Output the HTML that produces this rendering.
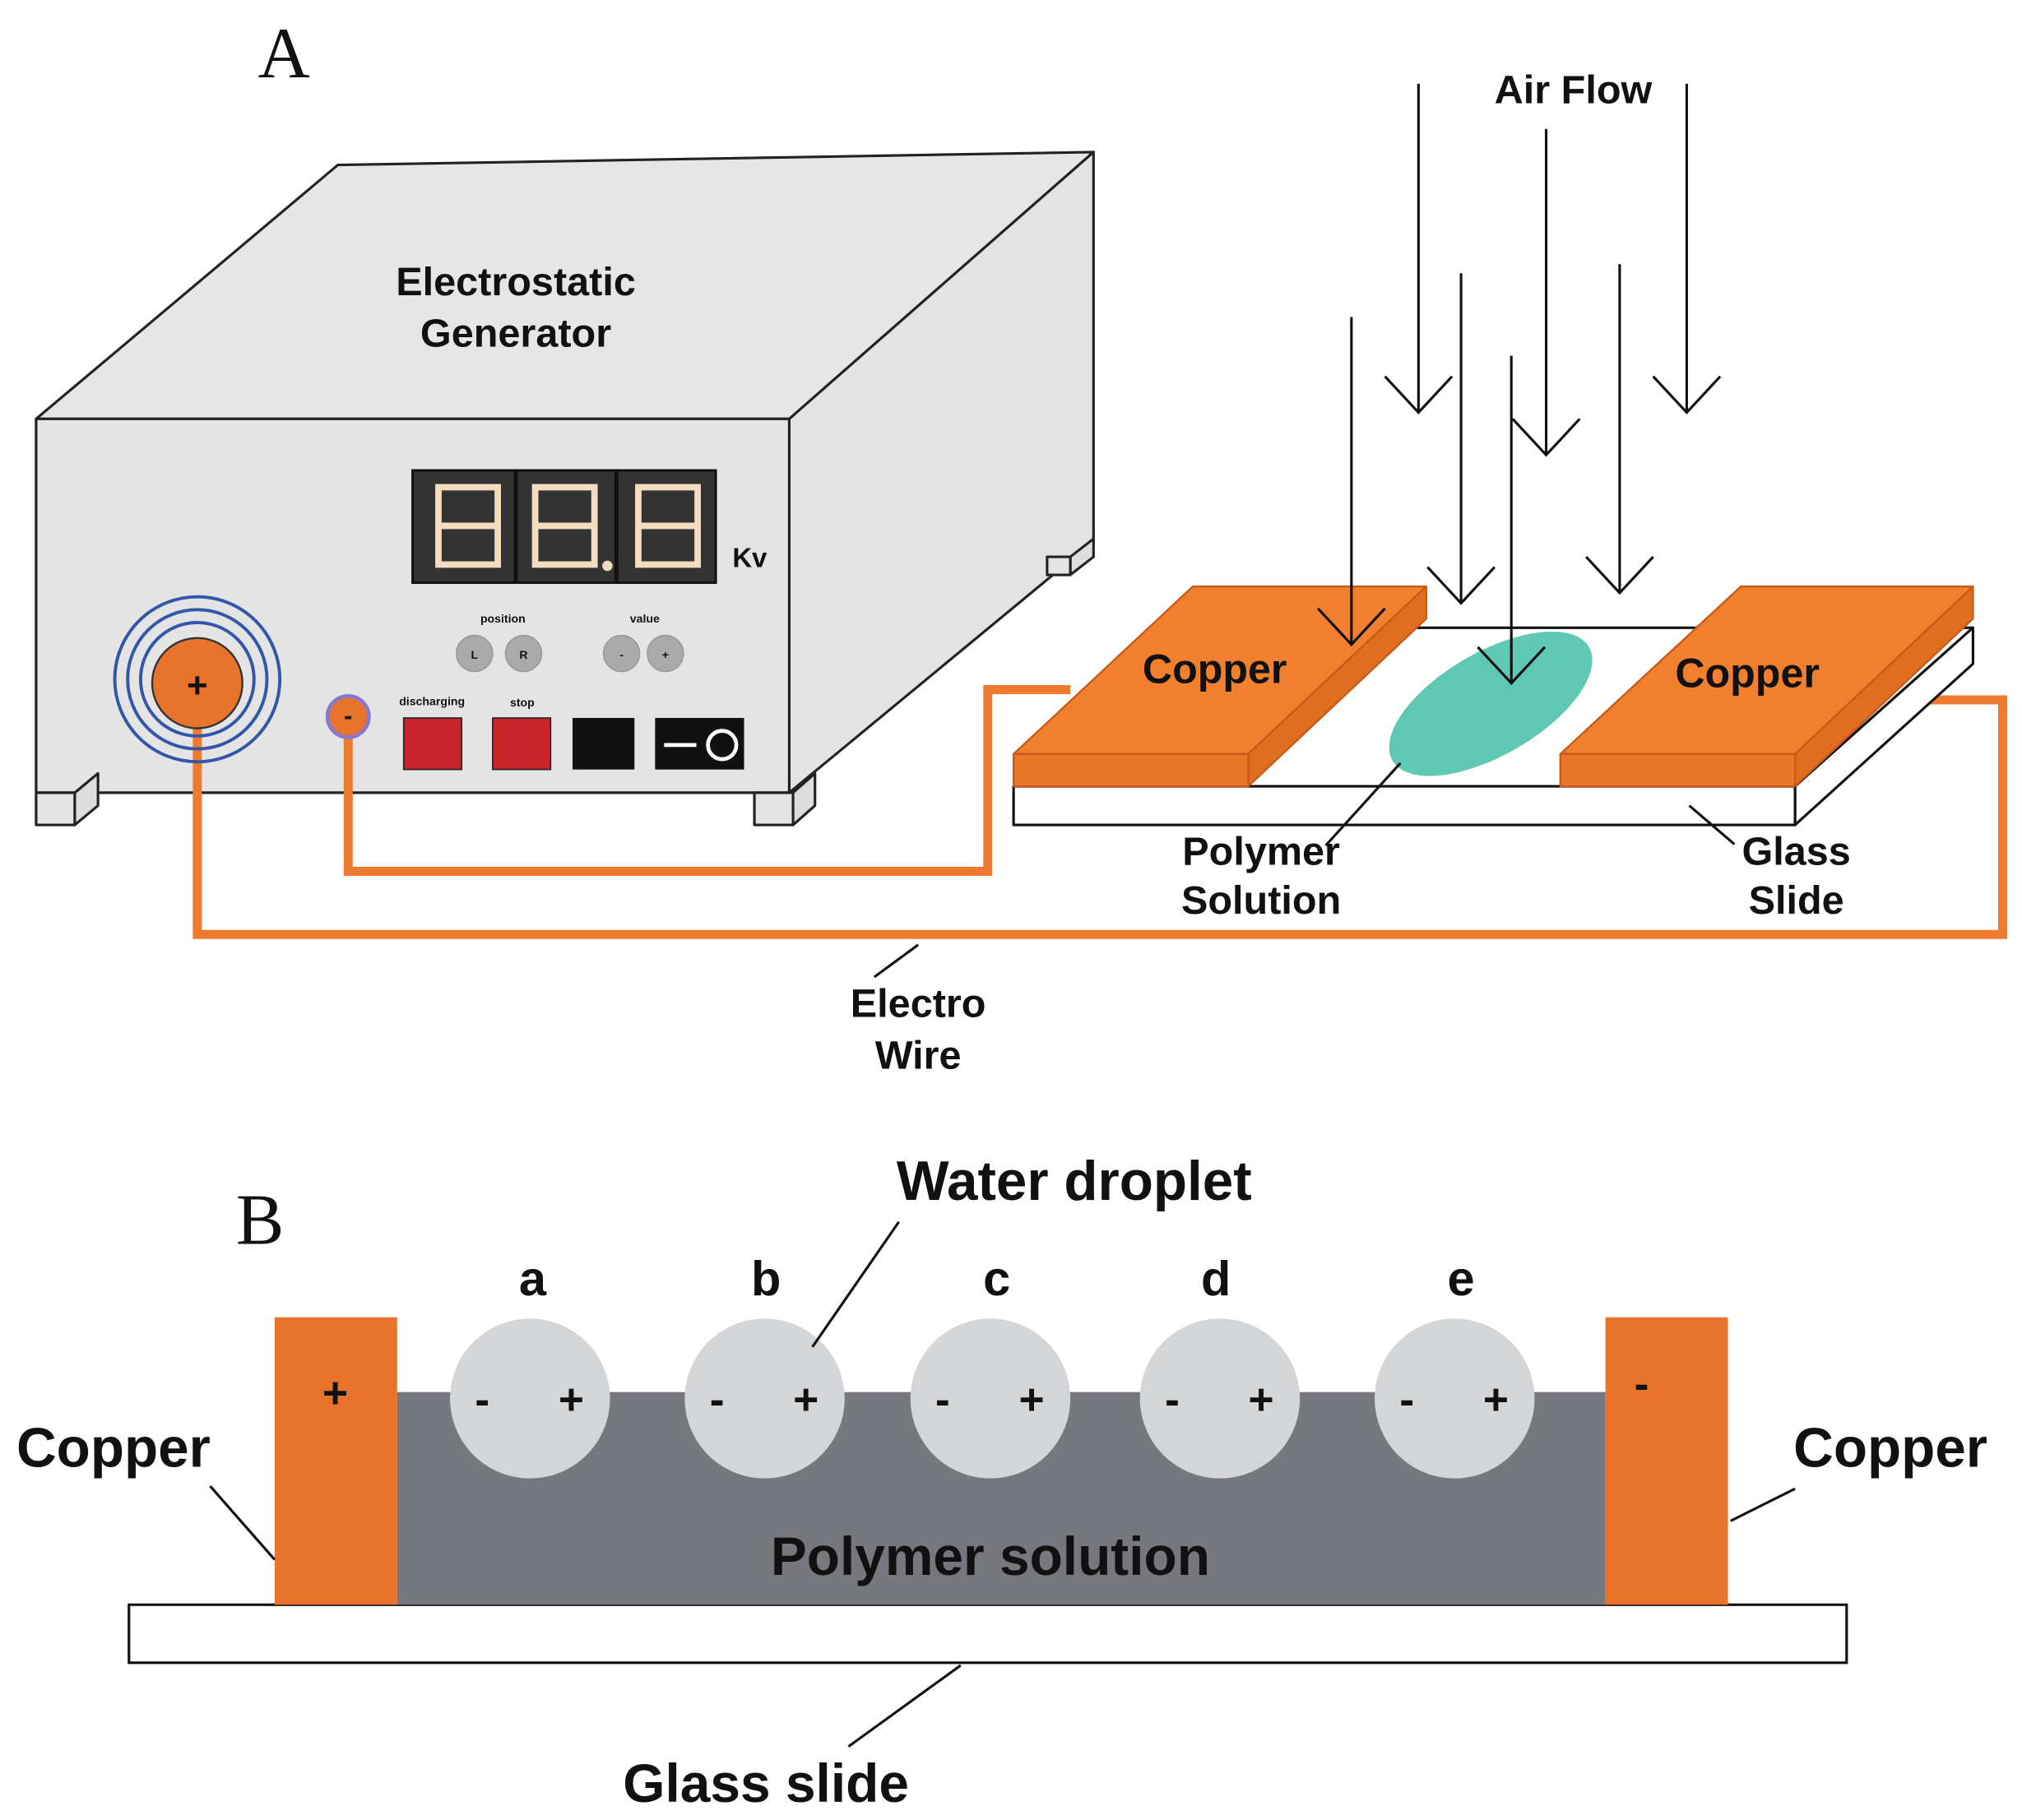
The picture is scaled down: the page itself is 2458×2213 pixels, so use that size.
<!DOCTYPE html>
<html><head><meta charset="utf-8"><style>
html,body{margin:0;padding:0;background:#fff;}
svg{display:block;}
text{font-family:"Liberation Sans",sans-serif;font-weight:bold;fill:#111;}
.serif{font-family:"Liberation Serif",serif;font-weight:normal;}
</style></head><body>
<svg width="2458" height="2213" viewBox="0 0 1568 1412" preserveAspectRatio="none" xmlns="http://www.w3.org/2000/svg">
<rect width="1568" height="1412" fill="#fff"/>
<text class="serif" x="200" y="60" font-size="56">A</text>

<g stroke="#222" stroke-width="2" stroke-linejoin="round">
<polygon points="28,325 262,128 848,118 612,325" fill="#e6e6e6"/>
<polygon points="612,325 848,118 848,420 612,615" fill="#e3e3e3"/>
<rect x="28" y="325" width="584" height="290" fill="#e4e4e4"/>
<rect x="28" y="615" width="30" height="25" fill="#e4e4e4"/>
<polygon points="58,615 76,600 76,625 58,640" fill="#ddd"/>
<rect x="585" y="615" width="30" height="25" fill="#e4e4e4"/>
<polygon points="615,615 632,600 632,625 615,640" fill="#ddd"/>
<polygon points="830,432 848,418 848,432 830,446" fill="#ddd"/>
<rect x="812" y="432" width="18" height="14" fill="#e4e4e4"/>
</g>
<text x="400" y="229" font-size="31" text-anchor="middle">Electrostatic</text>
<text x="400" y="269" font-size="31" text-anchor="middle">Generator</text>

<rect x="320" y="365" width="235" height="87" fill="#333" stroke="#111" stroke-width="2"/>
<g stroke="#111" stroke-width="3"><line x1="400" y1="365" x2="400" y2="452"/><line x1="478" y1="365" x2="478" y2="452"/></g>
<g fill="none" stroke="#f3dcc0" stroke-width="5">
<rect x="340" y="378" width="46" height="60"/><line x1="340" y1="408" x2="386" y2="408"/>
<rect x="415" y="378" width="46" height="60"/><line x1="415" y1="408" x2="461" y2="408"/>
<rect x="495" y="378" width="46" height="60"/><line x1="495" y1="408" x2="541" y2="408"/>
</g>
<circle cx="471" cy="439" r="4" fill="#f3dcc0"/>
<text x="568" y="440" font-size="21">Kv</text>

<text x="390" y="483" font-size="9" text-anchor="middle" font-weight="normal">position</text>
<text x="500" y="483" font-size="9" text-anchor="middle" font-weight="normal">value</text>
<g fill="#aaa" stroke="#999"><circle cx="368" cy="507" r="14"/><circle cx="406" cy="507" r="14"/><circle cx="482" cy="507" r="14"/><circle cx="516" cy="507" r="14"/></g>
<g font-size="9" text-anchor="middle" font-weight="normal"><text x="368" y="511">L</text><text x="406" y="511">R</text><text x="482" y="511">-</text><text x="516" y="511">+</text></g>
<text x="335" y="547" font-size="9" text-anchor="middle" font-weight="normal">discharging</text>
<text x="405" y="548" font-size="9" text-anchor="middle" font-weight="normal">stop</text>
<rect x="313" y="557" width="45" height="40" fill="#c8252b" stroke="#222"/>
<rect x="382" y="557" width="45" height="40" fill="#c8252b" stroke="#222"/>
<rect x="444" y="557" width="48" height="40" fill="#111"/>
<rect x="508" y="557" width="69" height="40" fill="#111"/>
<line x1="515" y1="578" x2="540" y2="578" stroke="#fff" stroke-width="3"/>
<circle cx="560" cy="578" r="11" fill="none" stroke="#fff" stroke-width="3"/>

<g fill="none" stroke="#ee7a30" stroke-width="7" stroke-linejoin="miter">
<polyline points="153,527 153,725 1553,725 1553,543 1460,543"/>
<polyline points="270,556 270,676 766,676 766,535 830,535"/>
</g>

<g fill="none" stroke="#3355aa" stroke-width="2.5"><circle cx="153" cy="527" r="64"/><circle cx="153" cy="527" r="54"/><circle cx="153" cy="527" r="44"/></g>
<circle cx="153" cy="530" r="35" fill="#e8732b" stroke="#333" stroke-width="1.5"/>
<text x="153" y="541" font-size="28" text-anchor="middle">+</text>
<circle cx="270" cy="556" r="16" fill="#e8732b" stroke="#8877cc" stroke-width="3"/>
<text x="270" y="562" font-size="20" text-anchor="middle">-</text>

<g stroke="#111" stroke-width="2" stroke-linejoin="round">
<polygon points="786,610 1392,610 1530,487 930,487" fill="#fff"/>
<polygon points="1392,610 1530,487 1530,515 1392,640" fill="#fff"/>
<rect x="786" y="610" width="606" height="30" fill="#fff"/>
</g>
<ellipse cx="1156" cy="546" rx="88" ry="40" transform="rotate(-30 1156 546)" fill="#5ec8b2"/>
<g stroke="#c85a18" stroke-width="1.5" stroke-linejoin="round">
<polygon points="786,585 968,585 1106,455 925,455" fill="#f0802e"/>
<polygon points="968,585 1106,455 1106,480 968,610" fill="#e06e20"/>
<rect x="786" y="585" width="182" height="25" fill="#ea7627"/>
<polygon points="1210,585 1392,585 1530,455 1350,455" fill="#f0802e"/>
<polygon points="1392,585 1530,455 1530,480 1392,610" fill="#e06e20"/>
<rect x="1210" y="585" width="182" height="25" fill="#ea7627"/>
</g>
<text x="942" y="530" font-size="32" text-anchor="middle">Copper</text>
<text x="1355" y="533" font-size="32" text-anchor="middle">Copper</text>

<g fill="none" stroke="#111" stroke-width="2">
<line x1="1100" y1="65" x2="1100" y2="320"/><polyline points="1074,292 1100,320 1126,292"/>
<line x1="1133" y1="212" x2="1133" y2="468"/><polyline points="1107,440 1133,468 1159,440"/>
<line x1="1199" y1="100" x2="1199" y2="353"/><polyline points="1173,325 1199,353 1225,325"/>
<line x1="1172" y1="276" x2="1172" y2="530"/><polyline points="1146,502 1172,530 1198,502"/>
<line x1="1048" y1="246" x2="1048" y2="500"/><polyline points="1022,472 1048,500 1074,472"/>
<line x1="1256" y1="205" x2="1256" y2="460"/><polyline points="1230,432 1256,460 1282,432"/>
<line x1="1308" y1="65" x2="1308" y2="320"/><polyline points="1282,292 1308,320 1334,292"/>
</g>
<text x="1220" y="80" font-size="31" text-anchor="middle">Air Flow</text>

<g stroke="#111" stroke-width="2">
<line x1="1086" y1="592" x2="1028" y2="656"/>
<line x1="1310" y1="625" x2="1345" y2="655"/>
<line x1="712" y1="733" x2="678" y2="758"/>
</g>
<g font-size="31" text-anchor="middle">
<text x="978" y="671">Polymer</text><text x="978" y="709">Solution</text>
<text x="1393" y="671">Glass</text><text x="1393" y="709">Slide</text>
<text x="712" y="789">Electro</text><text x="712" y="829">Wire</text>
</g>

<text class="serif" x="183" y="965" font-size="56">B</text>
<rect x="100" y="1245" width="1332" height="45" fill="#fff" stroke="#111" stroke-width="2"/>
<rect x="308" y="1080" width="937" height="165" fill="#77787d"/>
<rect x="213" y="1022" width="95" height="223" fill="#e8732b"/>
<rect x="1245" y="1022" width="95" height="223" fill="#e8732b"/>
<text x="260" y="1092" font-size="34" text-anchor="middle">+</text>
<text x="1273" y="1085" font-size="34" text-anchor="middle">-</text>
<g fill="#d4d5d7">
<circle cx="411" cy="1085" r="62"/><circle cx="593" cy="1085" r="62"/><circle cx="768" cy="1085" r="62"/><circle cx="946" cy="1085" r="62"/><circle cx="1128" cy="1085" r="62"/>
</g>
<g font-size="34" text-anchor="middle">
<text x="374" y="1097">-</text><text x="443" y="1097">+</text>
<text x="556" y="1097">-</text><text x="625" y="1097">+</text>
<text x="731" y="1097">-</text><text x="800" y="1097">+</text>
<text x="909" y="1097">-</text><text x="978" y="1097">+</text>
<text x="1091" y="1097">-</text><text x="1160" y="1097">+</text>
</g>
<g font-size="38" text-anchor="middle">
<text x="413" y="1005">a</text><text x="594" y="1005">b</text><text x="773" y="1005">c</text><text x="943" y="1005">d</text><text x="1133" y="1005">e</text>
</g>
<text x="833" y="931" font-size="43" text-anchor="middle">Water droplet</text>
<text x="768" y="1222" font-size="42" text-anchor="middle">Polymer solution</text>
<text x="88" y="1138" font-size="43" text-anchor="middle">Copper</text>
<text x="1466" y="1138" font-size="43" text-anchor="middle">Copper</text>
<text x="594" y="1398" font-size="42" text-anchor="middle">Glass slide</text>
<g stroke="#111" stroke-width="2">
<line x1="697" y1="948" x2="630" y2="1045"/>
<line x1="163" y1="1153" x2="213" y2="1210"/>
<line x1="1392" y1="1155" x2="1342" y2="1180"/>
<line x1="745" y1="1292" x2="658" y2="1355"/>
</g>
</svg>
</body></html>
